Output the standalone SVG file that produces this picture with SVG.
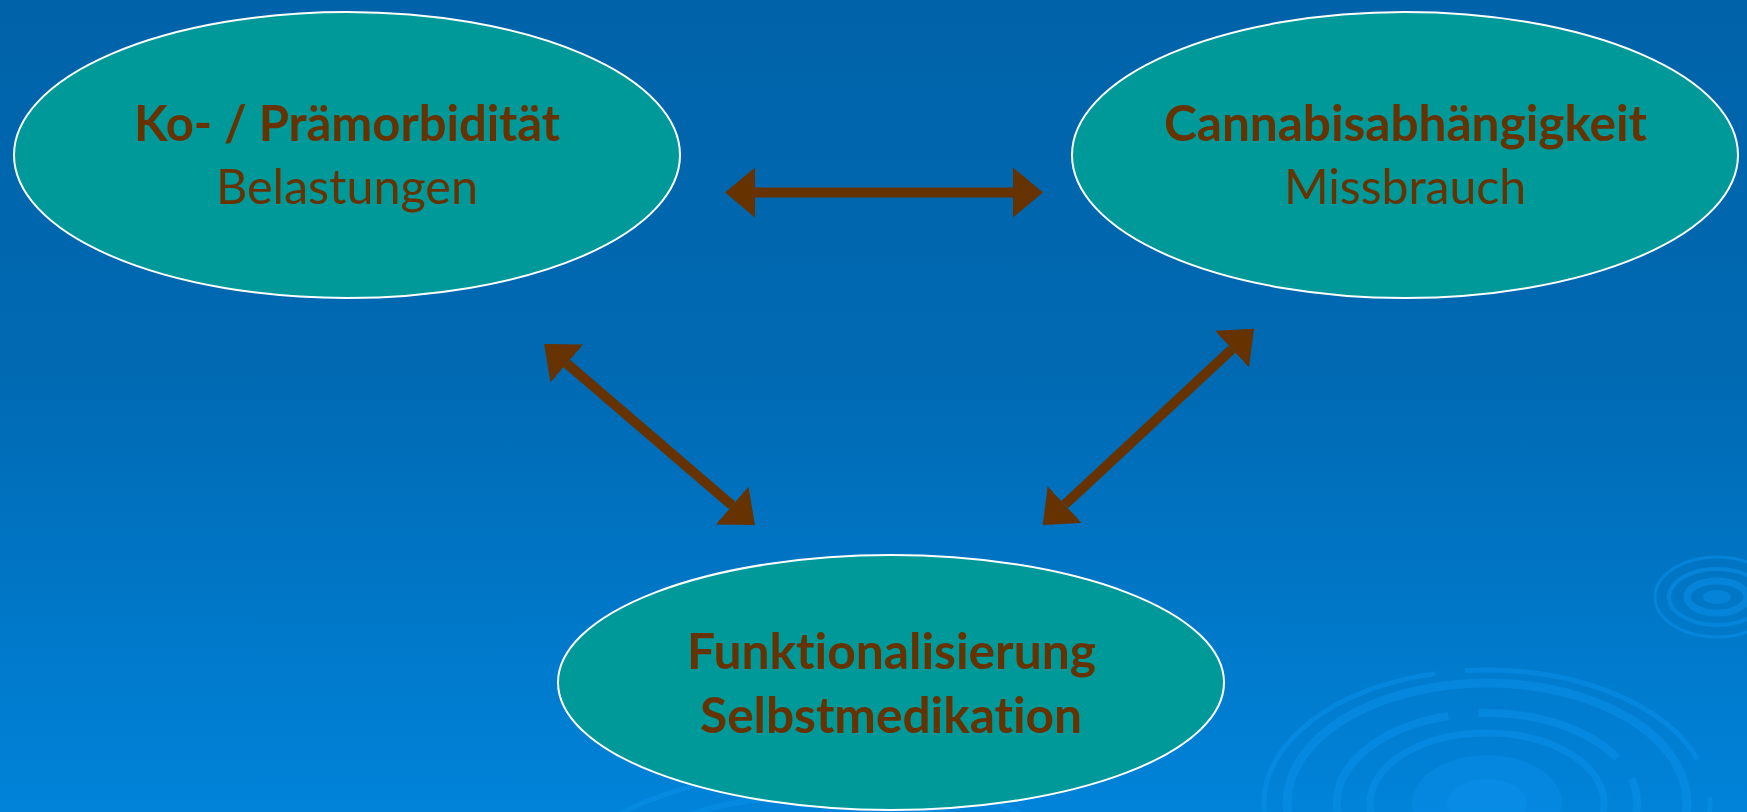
<svg xmlns="http://www.w3.org/2000/svg" width="1747" height="812" viewBox="0 0 1747 812">
  <defs>
    <linearGradient id="bg" x1="0" y1="0" x2="0" y2="1">
      <stop offset="0" stop-color="#0063A9"/>
      <stop offset="0.45" stop-color="#0069B2"/>
      <stop offset="1" stop-color="#0083D9"/>
    </linearGradient>
    <marker id="head" viewBox="0 0 30 50" markerWidth="30" markerHeight="50" refX="0" refY="25" markerUnits="userSpaceOnUse" orient="auto-start-reverse">
      <path d="M0,0 L30,25 L0,50 Z" fill="#663300"/>
    </marker>
    <style>
      .node { fill: #009999; stroke: #ffffff; stroke-width: 2; }
      .lbl { font-family: Lato, "Open Sans", "Liberation Sans", sans-serif; font-size: 49px; fill: #663300; text-anchor: middle; font-variant-ligatures: none; font-feature-settings: "liga" 0, "clig" 0; }
      .b { font-weight: bold; }
      .link { stroke: #663300; stroke-width: 10; fill: none; marker-start: url(#head); marker-end: url(#head); }
      .ring { fill: none; stroke: #0A8FEA; stroke-opacity: 0.55; }
    </style>
  </defs>

  <!-- background -->
  <rect x="0" y="0" width="1747" height="812" fill="url(#bg)"/>

  <!-- water ripples -->
  <g id="ripples">
    <g transform="translate(1487,803)">
      <ellipse class="ring" rx="223" ry="133" stroke-width="5" stroke-dasharray="260 40 500 30"/>
      <ellipse class="ring" rx="200" ry="120" stroke-width="9"/>
      <ellipse class="ring" rx="150" ry="90" stroke-width="8" stroke-dasharray="150 25 120 40 200 30"/>
      <ellipse class="ring" rx="117" ry="70" stroke-width="7"/>
      <ellipse rx="75" ry="48" fill="#0A8FEA" fill-opacity="0.45"/>
      <ellipse rx="40" ry="24" fill="#0A8FEA" fill-opacity="0.5"/>
    </g>
    <g transform="translate(1717,597)">
      <ellipse class="ring" rx="62" ry="40" stroke-width="3"/>
      <ellipse class="ring" rx="48" ry="28" stroke-width="4"/>
      <ellipse class="ring" rx="30" ry="16" stroke-width="7"/>
      <ellipse rx="14" ry="7" fill="#0A8FEA" fill-opacity="0.5"/>
    </g>
    <g transform="translate(820,940)">
      <ellipse class="ring" rx="300" ry="170" stroke-width="5"/>
      <ellipse class="ring" rx="260" ry="145" stroke-width="6"/>
    </g>
  </g>

  <!-- connectors -->
  <g id="connectors">
    <line class="link" x1="755" y1="192.5" x2="1013" y2="192.5"/>
    <line class="link" x1="566.8" y1="363.5" x2="732.2" y2="505.5"/>
    <line class="link" x1="1232" y1="349.1" x2="1064.7" y2="504.6"/>
  </g>

  <!-- nodes -->
  <g id="node-praemorbiditaet">
    <ellipse class="node" cx="347" cy="155" rx="333" ry="143"/>
    <text class="lbl b" x="347" y="141" textLength="426" lengthAdjust="spacingAndGlyphs">Ko- / Prämorbidität</text>
    <text class="lbl" x="347" y="204" textLength="262" lengthAdjust="spacingAndGlyphs">Belastungen</text>
  </g>
  <g id="node-abhaengigkeit">
    <ellipse class="node" cx="1405" cy="155" rx="333" ry="143"/>
    <text class="lbl b" x="1405.5" y="141" textLength="483" lengthAdjust="spacingAndGlyphs">Cannabisabhängigkeit</text>
    <text class="lbl" x="1405" y="204" textLength="242" lengthAdjust="spacingAndGlyphs">Missbrauch</text>
  </g>
  <g id="node-funktionalisierung">
    <ellipse class="node" cx="891" cy="682.5" rx="333" ry="127.5"/>
    <text class="lbl b" x="891.5" y="669" textLength="409" lengthAdjust="spacingAndGlyphs">Funktionalisierung</text>
    <text class="lbl b" x="891" y="733" textLength="382" lengthAdjust="spacingAndGlyphs">Selbstmedikation</text>
  </g>
</svg>
